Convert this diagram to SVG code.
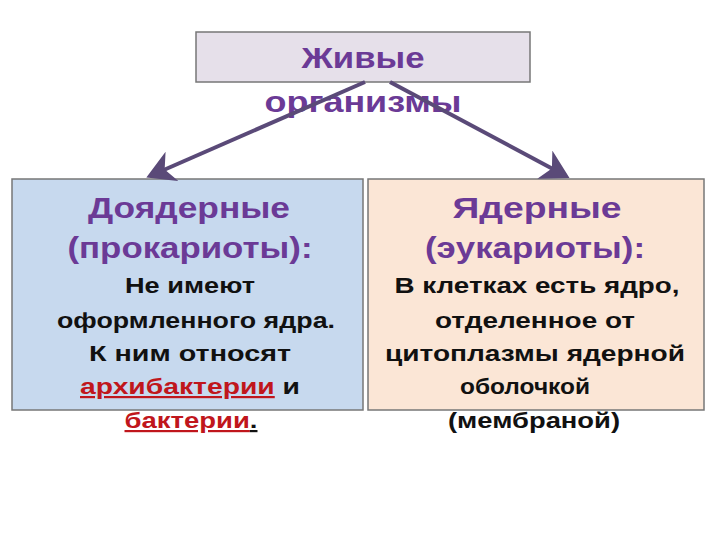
<svg xmlns="http://www.w3.org/2000/svg" width="720" height="540" viewBox="0 0 720 540">
<style>
.t{font-family:"Liberation Sans",Arial,sans-serif;font-weight:bold;text-anchor:middle;fill:#6b3a96;font-size:29px}
.b{font-family:"Liberation Sans",Arial,sans-serif;font-weight:bold;text-anchor:middle;fill:#111;font-size:22px}
.r{fill:#c0161c;text-decoration:underline}
</style>
<defs><marker id="ah" markerWidth="8" markerHeight="8" refX="6" refY="4" orient="auto" markerUnits="strokeWidth"><path d="M0,0 L7,4 L0,8 L2,4 z" fill="#5a4a78"/></marker></defs>
<rect width="720" height="540" fill="#fff"/>
<g id="top"><rect x="196" y="32" width="334" height="50" fill="#e6e0ea" stroke="#777" stroke-width="1.5"/>
<text class="t" x="363" y="68" textLength="123" lengthAdjust="spacingAndGlyphs">Живые</text>
<text class="t" x="363" y="112" textLength="197" lengthAdjust="spacingAndGlyphs">организмы</text></g>
<g id="left"><rect x="12" y="179" width="351" height="231" fill="#c7d9ee" stroke="#777" stroke-width="1.5"/>
<text class="t" x="189" y="218" textLength="202" lengthAdjust="spacingAndGlyphs">Доядерные</text>
<text class="t" x="190" y="258" textLength="245" lengthAdjust="spacingAndGlyphs">(прокариоты):</text>
<text class="b" x="190" y="293" textLength="130" lengthAdjust="spacingAndGlyphs">Не имеют</text>
<text class="b" x="196" y="328" textLength="278" lengthAdjust="spacingAndGlyphs">оформленного ядра.</text>
<text class="b" x="190" y="361" textLength="202" lengthAdjust="spacingAndGlyphs">К ним относят</text>
<text class="b" x="190" y="394" textLength="220" lengthAdjust="spacingAndGlyphs"><tspan class="r">архибактерии</tspan> и</text>
<text class="b" x="191" y="428" textLength="133" lengthAdjust="spacingAndGlyphs"><tspan class="r">бактерии</tspan><tspan text-decoration="underline">.</tspan></text></g>
<g id="right"><rect x="368" y="179" width="336" height="231" fill="#fbe6d6" stroke="#777" stroke-width="1.5"/>
<text class="t" x="537" y="218" textLength="169" lengthAdjust="spacingAndGlyphs">Ядерные</text>
<text class="t" x="535" y="258" textLength="220" lengthAdjust="spacingAndGlyphs">(эукариоты):</text>
<text class="b" x="537" y="293" textLength="285" lengthAdjust="spacingAndGlyphs">В клетках есть ядро,</text>
<text class="b" x="535" y="328" textLength="200" lengthAdjust="spacingAndGlyphs">отделенное от</text>
<text class="b" x="535" y="361" textLength="300" lengthAdjust="spacingAndGlyphs">цитоплазмы ядерной</text>
<text class="b" x="525" y="394" textLength="130" lengthAdjust="spacingAndGlyphs">оболочкой</text>
<text class="b" x="534" y="428" textLength="172" lengthAdjust="spacingAndGlyphs">(мембраной)</text></g>
<g id="connectors" stroke="#5a4a78" stroke-width="4" fill="none">
<line x1="365" y1="82" x2="150" y2="176" marker-end="url(#ah)"/>
<line x1="390" y1="82" x2="566" y2="176" marker-end="url(#ah)"/>
</g>
</svg>
